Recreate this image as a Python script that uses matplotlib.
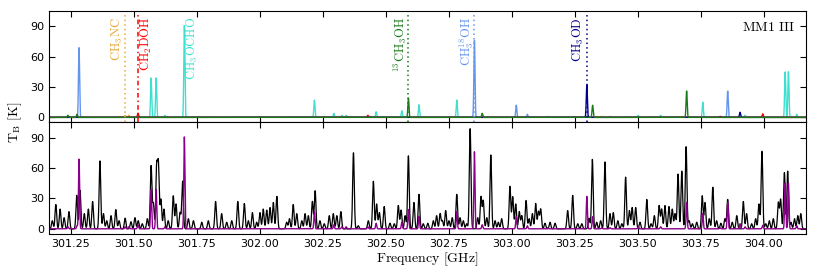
import numpy as np
import matplotlib
matplotlib.use('Agg')
import matplotlib.pyplot as plt

plt.rcParams['mathtext.fontset'] = 'cm'
plt.rcParams['xtick.direction'] = 'in'
plt.rcParams['ytick.direction'] = 'in'
plt.rcParams['xtick.top'] = True
plt.rcParams['ytick.right'] = True

# model line lists per species (center GHz, peak K)
ch3_18oh_f = [301.282, 302.851, 303.017, 303.061, 303.856]
ch3_18oh_t = [69, 76, 12, 3, 26]

ch3ocho_f = [301.568, 301.588, 301.623, 301.700, 302.216, 302.293, 302.325,
             302.342, 302.461, 302.563, 302.631, 302.781, 303.142, 303.356,
             303.389, 303.501, 303.590, 303.757, 303.925, 304.084, 304.097,
             304.130]
ch3ocho_t = [39, 39, 2, 91, 17, 4, 2, 2, 5.5, 6.5, 12.5, 17, 1, 1, 1, 2, 2,
             15, 2, 45, 45, 3]

ch3nc_f = [301.465, 301.480]
ch3nc_t = [2, 2]

ch2doh_f = [301.516, 302.428, 303.826, 303.995]
ch2doh_t = [4, 2, 1, 3.5]

ch3od_f = [303.297, 303.905]
ch3od_t = [32, 5]

c13h3oh_f = [301.238, 301.274, 302.589, 302.882, 303.320, 303.693]
c13h3oh_t = [2, 3, 19, 4, 12, 26]

obs_f = [301.176, 301.190, 301.207, 301.223, 301.242, 301.273, 301.286, 301.303,
         301.319, 301.336, 301.365, 301.379, 301.392, 301.409, 301.428, 301.441,
         301.465, 301.488, 301.504, 301.517, 301.533, 301.553, 301.568, 301.577,
         301.590, 301.597, 301.607, 301.619, 301.636, 301.656, 301.667, 301.683,
         301.693, 301.716, 301.736, 301.769, 301.795, 301.824, 301.848, 301.868,
         301.888, 301.912, 301.938, 301.954, 301.970, 301.987, 302.000, 302.013,
         302.027, 302.040, 302.053, 302.067, 302.106, 302.117, 302.132, 302.146,
         302.166, 302.179, 302.192, 302.208, 302.219, 302.238, 302.255, 302.275,
         302.291, 302.305, 302.321, 302.371, 302.390, 302.430, 302.450, 302.463,
         302.474, 302.493, 302.516, 302.533, 302.549, 302.560, 302.576, 302.589,
         302.611, 302.631, 302.648, 302.666, 302.688, 302.701, 302.715, 302.724,
         302.737, 302.750, 302.763, 302.781, 302.794, 302.807, 302.820, 302.834,
         302.864, 302.877, 302.886, 302.900, 302.916, 302.933, 302.946, 302.959,
         302.992, 303.003, 303.015, 303.029, 303.039, 303.056, 303.068, 303.081,
         303.094, 303.105, 303.114, 303.131, 303.151, 303.171, 303.221, 303.241,
         303.261, 303.277, 303.306, 303.319, 303.336, 303.352, 303.369, 303.389,
         303.402, 303.420, 303.436, 303.451, 303.466, 303.477, 303.491, 303.508,
         303.535, 303.552, 303.565, 303.584, 303.594, 303.607, 303.623, 303.636,
         303.647, 303.659, 303.674, 303.691, 303.703, 303.716, 303.733, 303.755,
         303.766, 303.783, 303.797, 303.812, 303.829, 303.845, 303.856, 303.874,
         303.892, 303.918, 303.931, 303.951, 303.967, 303.980, 303.992, 304.007,
         304.021, 304.037, 304.057, 304.066, 304.081, 304.094, 304.107, 304.121,
         304.134, 304.146]
obs_t = [8, 24, 19.5, 11, 17, 33, 38, 15,
         19.5, 27, 67, 15, 8, 13, 19, 8,
         10.5, 7, 11, 8, 5, 10, 62, 24.5,
         60, 62, 29, 19.5, 8, 32.6, 24.5, 16,
         47, 10, 8, 6.5, 8, 27, 15, 6.5,
         8, 27, 25, 8, 16, 6.5, 16, 19.5,
         18.5, 21, 26, 32, 6.5, 10, 24, 15,
         8, 15, 13, 27, 37.5, 8, 5, 13,
         15, 13, 17, 75, 3, 8, 47, 24.5,
         16, 22, 5.5, 5, 23, 18.5, 13, 72,
         26, 34, 5, 5.5, 8, 13, 15, 8,
         18, 8, 11, 34, 11, 8, 5, 99,
         11, 31.6, 27.7, 11, 73, 8, 6.5, 10,
         42, 31.6, 24.5, 17, 13, 28, 10, 15,
         25, 17, 19.5, 5.5, 6.5, 5.5, 18, 33,
         5, 5, 10.5, 68.5, 6.5, 8, 66, 15,
         16, 8, 5, 51, 18, 21, 21, 6.5,
         29, 5, 13, 23, 19.5, 23, 22, 19.5,
         15, 54, 57, 81, 8, 5, 6.5, 32.6,
         26, 10, 41, 8, 5.5, 10, 29, 6.5,
         13, 27, 15, 5, 10, 24.5, 76.6, 5,
         8, 10, 26, 29, 55.5, 57, 6.5, 10,
         13, 15]

labels = [r'$\mathrm{CH_3NC}$', r'$\mathrm{CH_2DOH}$', r'$\mathrm{CH_3OCHO}$',
          r'$\mathrm{^{13}CH_3OH}$', r'$\mathrm{CH_3^{18}OH}$', r'$\mathrm{CH_3OD}$']
label_freqs = [301.465, 301.516, 301.700, 302.589, 302.851, 303.297]


def spectrum(freq, centers, heights, sigma):
    c = np.asarray(centers)[:, None]
    h = np.asarray(heights)[:, None]
    return (h * np.exp(-0.5 * ((freq[None, :] - c) / sigma) ** 2)).sum(axis=0)


freq = np.arange(301.163, 304.168, 0.0004)
sig_model = 0.0022
species = [
    (ch3_18oh_f, ch3_18oh_t, 'cornflowerblue'),
    (ch3ocho_f, ch3ocho_t, 'turquoise'),
    (ch3nc_f, ch3nc_t, '#e6a93a'),
    (ch2doh_f, ch2doh_t, 'red'),
    (ch3od_f, ch3od_t, 'darkblue'),
    (c13h3oh_f, c13h3oh_t, '#1a7a1a'),
]

fig, (ax1, ax2) = plt.subplots(2, 1, figsize=(8.31, 2.67), dpi=100, sharex=True)
fig.subplots_adjust(left=0.059, right=0.970, top=0.959, bottom=0.124, hspace=0)

total = np.zeros_like(freq)
for f, t, col in species:
    s = spectrum(freq, f, t, sig_model)
    total += s
    ax1.plot(freq, s, color=col, lw=1.0)

line_colors = ['#e6a93a', 'red', 'turquoise', '#1a7a1a', 'cornflowerblue', 'darkblue']
line_styles = [(0, (1, 2)), (0, (3, 2, 1, 2)), None, (0, (1, 2)), (0, (1, 2)), (0, (1, 2))]
label_side = [-1, 1, 1, -1, -1, -1]
for lab, lf, col, ls, side in zip(labels, label_freqs, line_colors, line_styles, label_side):
    if ls is not None:
        ax1.axvline(lf, color=col, ls=ls, lw=1.1)
    ax1.text(lf + side * 0.032, 99, lab, rotation=90, color=col, fontsize=9,
             ha='center', va='top')

ax1.text(0.985, 0.86, r'$\mathrm{MM1\ III}$', transform=ax1.transAxes,
         ha='right', va='center', fontsize=10)

obs = spectrum(freq, obs_f, obs_t, 0.0032)
ax2.plot(freq, obs, color='black', lw=0.9)
ax2.plot(freq, total, color='darkmagenta', lw=1.0)

for ax in (ax1, ax2):
    ax.set_ylim(-5, 105)
    ax.set_yticks([0, 30, 60, 90])
    ax.tick_params(labelsize=8, length=4)
ax2.set_xlim(301.163, 304.167)
ax2.set_xticks([301.25, 301.5, 301.75, 302.0, 302.25, 302.5, 302.75, 303.0,
                303.25, 303.5, 303.75, 304.0])
ax2.set_xticklabels(['%.2f' % v for v in ax2.get_xticks()])
ax2.set_xlabel(r'$\mathrm{Frequency\ [GHz]}$', fontsize=10, labelpad=1)
fig.text(0.018, 0.54, r'$\mathrm{T_B\ [K]}$', rotation=90, ha='center',
         va='center', fontsize=10)

plt.savefig('out.png', dpi=100)
